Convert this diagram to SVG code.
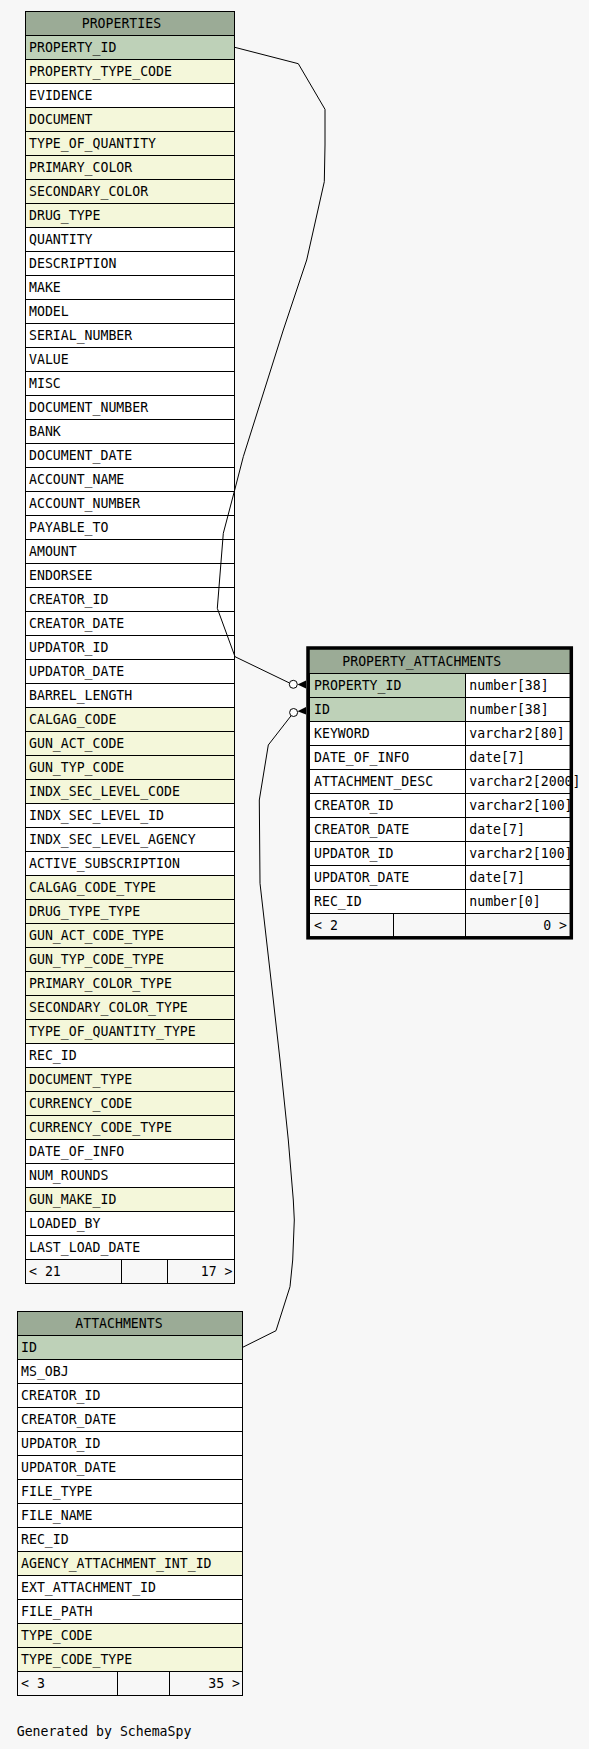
<svg xmlns="http://www.w3.org/2000/svg" width="589" height="1749" viewBox="0 0 589 1749">
<style>
.bg{fill:#f7f7f7}
rect.c{stroke:#000;stroke-width:1}
.hd{fill:#9bab96}
.pk{fill:#bed1b8}
.fk{fill:#f4f7da}
.pl{fill:#ffffff}
.ft{fill:#f7f7f7}
text{font-family:"DejaVu Sans Mono","Liberation Mono",monospace;font-size:13.2px;fill:#000}
.e{text-anchor:end}
.edge{fill:none;stroke:#000;stroke-width:1}
.circ{fill:#fff;stroke:#000;stroke-width:1}
</style>
<rect class="bg" x="0" y="0" width="589" height="1749"/>

<g id="PROPERTIES">
<rect class="c hd" x="25.5" y="11.5" width="209" height="24"/>
<text x="81.7" y="27.5">PROPERTIES</text>
<rect class="c pk" x="25.5" y="35.5" width="209" height="24"/><text x="29" y="52">PROPERTY_ID</text>
<rect class="c fk" x="25.5" y="59.5" width="209" height="24"/><text x="29" y="76">PROPERTY_TYPE_CODE</text>
<rect class="c pl" x="25.5" y="83.5" width="209" height="24"/><text x="29" y="100">EVIDENCE</text>
<rect class="c fk" x="25.5" y="107.5" width="209" height="24"/><text x="29" y="124">DOCUMENT</text>
<rect class="c fk" x="25.5" y="131.5" width="209" height="24"/><text x="29" y="148">TYPE_OF_QUANTITY</text>
<rect class="c fk" x="25.5" y="155.5" width="209" height="24"/><text x="29" y="172">PRIMARY_COLOR</text>
<rect class="c fk" x="25.5" y="179.5" width="209" height="24"/><text x="29" y="196">SECONDARY_COLOR</text>
<rect class="c fk" x="25.5" y="203.5" width="209" height="24"/><text x="29" y="220">DRUG_TYPE</text>
<rect class="c pl" x="25.5" y="227.5" width="209" height="24"/><text x="29" y="244">QUANTITY</text>
<rect class="c pl" x="25.5" y="251.5" width="209" height="24"/><text x="29" y="268">DESCRIPTION</text>
<rect class="c pl" x="25.5" y="275.5" width="209" height="24"/><text x="29" y="292">MAKE</text>
<rect class="c pl" x="25.5" y="299.5" width="209" height="24"/><text x="29" y="316">MODEL</text>
<rect class="c pl" x="25.5" y="323.5" width="209" height="24"/><text x="29" y="340">SERIAL_NUMBER</text>
<rect class="c pl" x="25.5" y="347.5" width="209" height="24"/><text x="29" y="364">VALUE</text>
<rect class="c pl" x="25.5" y="371.5" width="209" height="24"/><text x="29" y="388">MISC</text>
<rect class="c pl" x="25.5" y="395.5" width="209" height="24"/><text x="29" y="412">DOCUMENT_NUMBER</text>
<rect class="c pl" x="25.5" y="419.5" width="209" height="24"/><text x="29" y="436">BANK</text>
<rect class="c pl" x="25.5" y="443.5" width="209" height="24"/><text x="29" y="460">DOCUMENT_DATE</text>
<rect class="c pl" x="25.5" y="467.5" width="209" height="24"/><text x="29" y="484">ACCOUNT_NAME</text>
<rect class="c pl" x="25.5" y="491.5" width="209" height="24"/><text x="29" y="508">ACCOUNT_NUMBER</text>
<rect class="c pl" x="25.5" y="515.5" width="209" height="24"/><text x="29" y="532">PAYABLE_TO</text>
<rect class="c pl" x="25.5" y="539.5" width="209" height="24"/><text x="29" y="556">AMOUNT</text>
<rect class="c pl" x="25.5" y="563.5" width="209" height="24"/><text x="29" y="580">ENDORSEE</text>
<rect class="c pl" x="25.5" y="587.5" width="209" height="24"/><text x="29" y="604">CREATOR_ID</text>
<rect class="c pl" x="25.5" y="611.5" width="209" height="24"/><text x="29" y="628">CREATOR_DATE</text>
<rect class="c pl" x="25.5" y="635.5" width="209" height="24"/><text x="29" y="652">UPDATOR_ID</text>
<rect class="c pl" x="25.5" y="659.5" width="209" height="24"/><text x="29" y="676">UPDATOR_DATE</text>
<rect class="c pl" x="25.5" y="683.5" width="209" height="24"/><text x="29" y="700">BARREL_LENGTH</text>
<rect class="c fk" x="25.5" y="707.5" width="209" height="24"/><text x="29" y="724">CALGAG_CODE</text>
<rect class="c fk" x="25.5" y="731.5" width="209" height="24"/><text x="29" y="748">GUN_ACT_CODE</text>
<rect class="c fk" x="25.5" y="755.5" width="209" height="24"/><text x="29" y="772">GUN_TYP_CODE</text>
<rect class="c fk" x="25.5" y="779.5" width="209" height="24"/><text x="29" y="796">INDX_SEC_LEVEL_CODE</text>
<rect class="c pl" x="25.5" y="803.5" width="209" height="24"/><text x="29" y="820">INDX_SEC_LEVEL_ID</text>
<rect class="c pl" x="25.5" y="827.5" width="209" height="24"/><text x="29" y="844">INDX_SEC_LEVEL_AGENCY</text>
<rect class="c pl" x="25.5" y="851.5" width="209" height="24"/><text x="29" y="868">ACTIVE_SUBSCRIPTION</text>
<rect class="c fk" x="25.5" y="875.5" width="209" height="24"/><text x="29" y="892">CALGAG_CODE_TYPE</text>
<rect class="c fk" x="25.5" y="899.5" width="209" height="24"/><text x="29" y="916">DRUG_TYPE_TYPE</text>
<rect class="c fk" x="25.5" y="923.5" width="209" height="24"/><text x="29" y="940">GUN_ACT_CODE_TYPE</text>
<rect class="c fk" x="25.5" y="947.5" width="209" height="24"/><text x="29" y="964">GUN_TYP_CODE_TYPE</text>
<rect class="c fk" x="25.5" y="971.5" width="209" height="24"/><text x="29" y="988">PRIMARY_COLOR_TYPE</text>
<rect class="c fk" x="25.5" y="995.5" width="209" height="24"/><text x="29" y="1012">SECONDARY_COLOR_TYPE</text>
<rect class="c fk" x="25.5" y="1019.5" width="209" height="24"/><text x="29" y="1036">TYPE_OF_QUANTITY_TYPE</text>
<rect class="c pl" x="25.5" y="1043.5" width="209" height="24"/><text x="29" y="1060">REC_ID</text>
<rect class="c fk" x="25.5" y="1067.5" width="209" height="24"/><text x="29" y="1084">DOCUMENT_TYPE</text>
<rect class="c fk" x="25.5" y="1091.5" width="209" height="24"/><text x="29" y="1108">CURRENCY_CODE</text>
<rect class="c fk" x="25.5" y="1115.5" width="209" height="24"/><text x="29" y="1132">CURRENCY_CODE_TYPE</text>
<rect class="c pl" x="25.5" y="1139.5" width="209" height="24"/><text x="29" y="1156">DATE_OF_INFO</text>
<rect class="c pl" x="25.5" y="1163.5" width="209" height="24"/><text x="29" y="1180">NUM_ROUNDS</text>
<rect class="c fk" x="25.5" y="1187.5" width="209" height="24"/><text x="29" y="1204">GUN_MAKE_ID</text>
<rect class="c pl" x="25.5" y="1211.5" width="209" height="24"/><text x="29" y="1228">LOADED_BY</text>
<rect class="c pl" x="25.5" y="1235.5" width="209" height="24"/><text x="29" y="1252">LAST_LOAD_DATE</text>
<rect class="c ft" x="25.5" y="1259.5" width="96" height="24"/>
<rect class="c ft" x="121.5" y="1259.5" width="46" height="24"/>
<rect class="c ft" x="167.5" y="1259.5" width="67" height="24"/>
<text x="29" y="1276">&lt; 21</text>
<text class="e" x="232.5" y="1276">17 &gt;</text>
</g>

<g id="PROPERTY_ATTACHMENTS">
<rect class="hd" x="308" y="648" width="263" height="25.5"/>
<line x1="308" y1="673.5" x2="571" y2="673.5" stroke="#000"/>
<text x="342.3" y="666">PROPERTY_ATTACHMENTS</text>
<rect class="c pk" x="309.5" y="673.5" width="156" height="24"/><rect class="c pl" x="465.5" y="673.5" width="105" height="24"/>
<text x="314" y="690">PROPERTY_ID</text><text x="469.3" y="690">number[38]</text>
<rect class="c pk" x="309.5" y="697.5" width="156" height="24"/><rect class="c pl" x="465.5" y="697.5" width="105" height="24"/>
<text x="314" y="714">ID</text><text x="469.3" y="714">number[38]</text>
<rect class="c pl" x="309.5" y="721.5" width="156" height="24"/><rect class="c pl" x="465.5" y="721.5" width="105" height="24"/>
<text x="314" y="738">KEYWORD</text><text x="469.3" y="738">varchar2[80]</text>
<rect class="c pl" x="309.5" y="745.5" width="156" height="24"/><rect class="c pl" x="465.5" y="745.5" width="105" height="24"/>
<text x="314" y="762">DATE_OF_INFO</text><text x="469.3" y="762">date[7]</text>
<rect class="c pl" x="309.5" y="769.5" width="156" height="24"/><rect class="c pl" x="465.5" y="769.5" width="105" height="24"/>
<text x="314" y="786">ATTACHMENT_DESC</text><text x="469.3" y="786">varchar2[2000]</text>
<rect class="c pl" x="309.5" y="793.5" width="156" height="24"/><rect class="c pl" x="465.5" y="793.5" width="105" height="24"/>
<text x="314" y="810">CREATOR_ID</text><text x="469.3" y="810">varchar2[100]</text>
<rect class="c pl" x="309.5" y="817.5" width="156" height="24"/><rect class="c pl" x="465.5" y="817.5" width="105" height="24"/>
<text x="314" y="834">CREATOR_DATE</text><text x="469.3" y="834">date[7]</text>
<rect class="c pl" x="309.5" y="841.5" width="156" height="24"/><rect class="c pl" x="465.5" y="841.5" width="105" height="24"/>
<text x="314" y="858">UPDATOR_ID</text><text x="469.3" y="858">varchar2[100]</text>
<rect class="c pl" x="309.5" y="865.5" width="156" height="24"/><rect class="c pl" x="465.5" y="865.5" width="105" height="24"/>
<text x="314" y="882">UPDATOR_DATE</text><text x="469.3" y="882">date[7]</text>
<rect class="c pl" x="309.5" y="889.5" width="156" height="24"/><rect class="c pl" x="465.5" y="889.5" width="105" height="24"/>
<text x="314" y="906">REC_ID</text><text x="469.3" y="906">number[0]</text>
<rect class="c ft" x="309.5" y="913.5" width="84" height="24"/>
<rect class="c ft" x="393.5" y="913.5" width="72" height="24"/>
<rect class="c ft" x="465.5" y="913.5" width="105" height="24"/>
<text x="314" y="930">&lt; 2</text>
<text class="e" x="567" y="930">0 &gt;</text>
<rect x="308" y="648" width="263.3" height="289.8" fill="none" stroke="#000" stroke-width="3.5"/>
</g>

<g id="ATTACHMENTS">
<rect class="c hd" x="17.5" y="1311.5" width="225" height="24"/>
<text x="75.3" y="1327.5">ATTACHMENTS</text>
<rect class="c pk" x="17.5" y="1335.5" width="225" height="24"/><text x="21" y="1352">ID</text>
<rect class="c pl" x="17.5" y="1359.5" width="225" height="24"/><text x="21" y="1376">MS_OBJ</text>
<rect class="c pl" x="17.5" y="1383.5" width="225" height="24"/><text x="21" y="1400">CREATOR_ID</text>
<rect class="c pl" x="17.5" y="1407.5" width="225" height="24"/><text x="21" y="1424">CREATOR_DATE</text>
<rect class="c pl" x="17.5" y="1431.5" width="225" height="24"/><text x="21" y="1448">UPDATOR_ID</text>
<rect class="c pl" x="17.5" y="1455.5" width="225" height="24"/><text x="21" y="1472">UPDATOR_DATE</text>
<rect class="c pl" x="17.5" y="1479.5" width="225" height="24"/><text x="21" y="1496">FILE_TYPE</text>
<rect class="c pl" x="17.5" y="1503.5" width="225" height="24"/><text x="21" y="1520">FILE_NAME</text>
<rect class="c pl" x="17.5" y="1527.5" width="225" height="24"/><text x="21" y="1544">REC_ID</text>
<rect class="c fk" x="17.5" y="1551.5" width="225" height="24"/><text x="21" y="1568">AGENCY_ATTACHMENT_INT_ID</text>
<rect class="c pl" x="17.5" y="1575.5" width="225" height="24"/><text x="21" y="1592">EXT_ATTACHMENT_ID</text>
<rect class="c pl" x="17.5" y="1599.5" width="225" height="24"/><text x="21" y="1616">FILE_PATH</text>
<rect class="c fk" x="17.5" y="1623.5" width="225" height="24"/><text x="21" y="1640">TYPE_CODE</text>
<rect class="c fk" x="17.5" y="1647.5" width="225" height="24"/><text x="21" y="1664">TYPE_CODE_TYPE</text>
<rect class="c ft" x="17.5" y="1671.5" width="100" height="24"/>
<rect class="c ft" x="117.5" y="1671.5" width="52" height="24"/>
<rect class="c ft" x="169.5" y="1671.5" width="73" height="24"/>
<text x="21" y="1688">&lt; 3</text>
<text class="e" x="240" y="1688">35 &gt;</text>
</g>

<g id="connectors">
<polyline class="edge" points="234.7,47.3 298.3,63.7 325,109.3 325,145 324.3,181.7 306.7,260 283.3,330 243.3,456.7 234.7,490 223.3,533.3 217.3,608.3 235,656.7 289.5,683"/>
<circle class="circ" cx="293.3" cy="684.3" r="4"/>
<polygon points="297.5,684.5 306,680.5 306,688.5" fill="#000"/>
<polyline class="edge" points="242.7,1347.3 276,1330.7 290,1286.7 292.7,1260 294.3,1220 293.3,1200 288.3,1140 280,1060 273.3,1000 260,883.3 259.3,800 268.3,745 291.2,715.6"/>
<circle class="circ" cx="293.6" cy="712.5" r="4"/>
<polygon points="297.5,711.3 306,707 306,714.5" fill="#000"/>
</g>

<text x="16.7" y="1736">Generated by SchemaSpy</text>
</svg>
